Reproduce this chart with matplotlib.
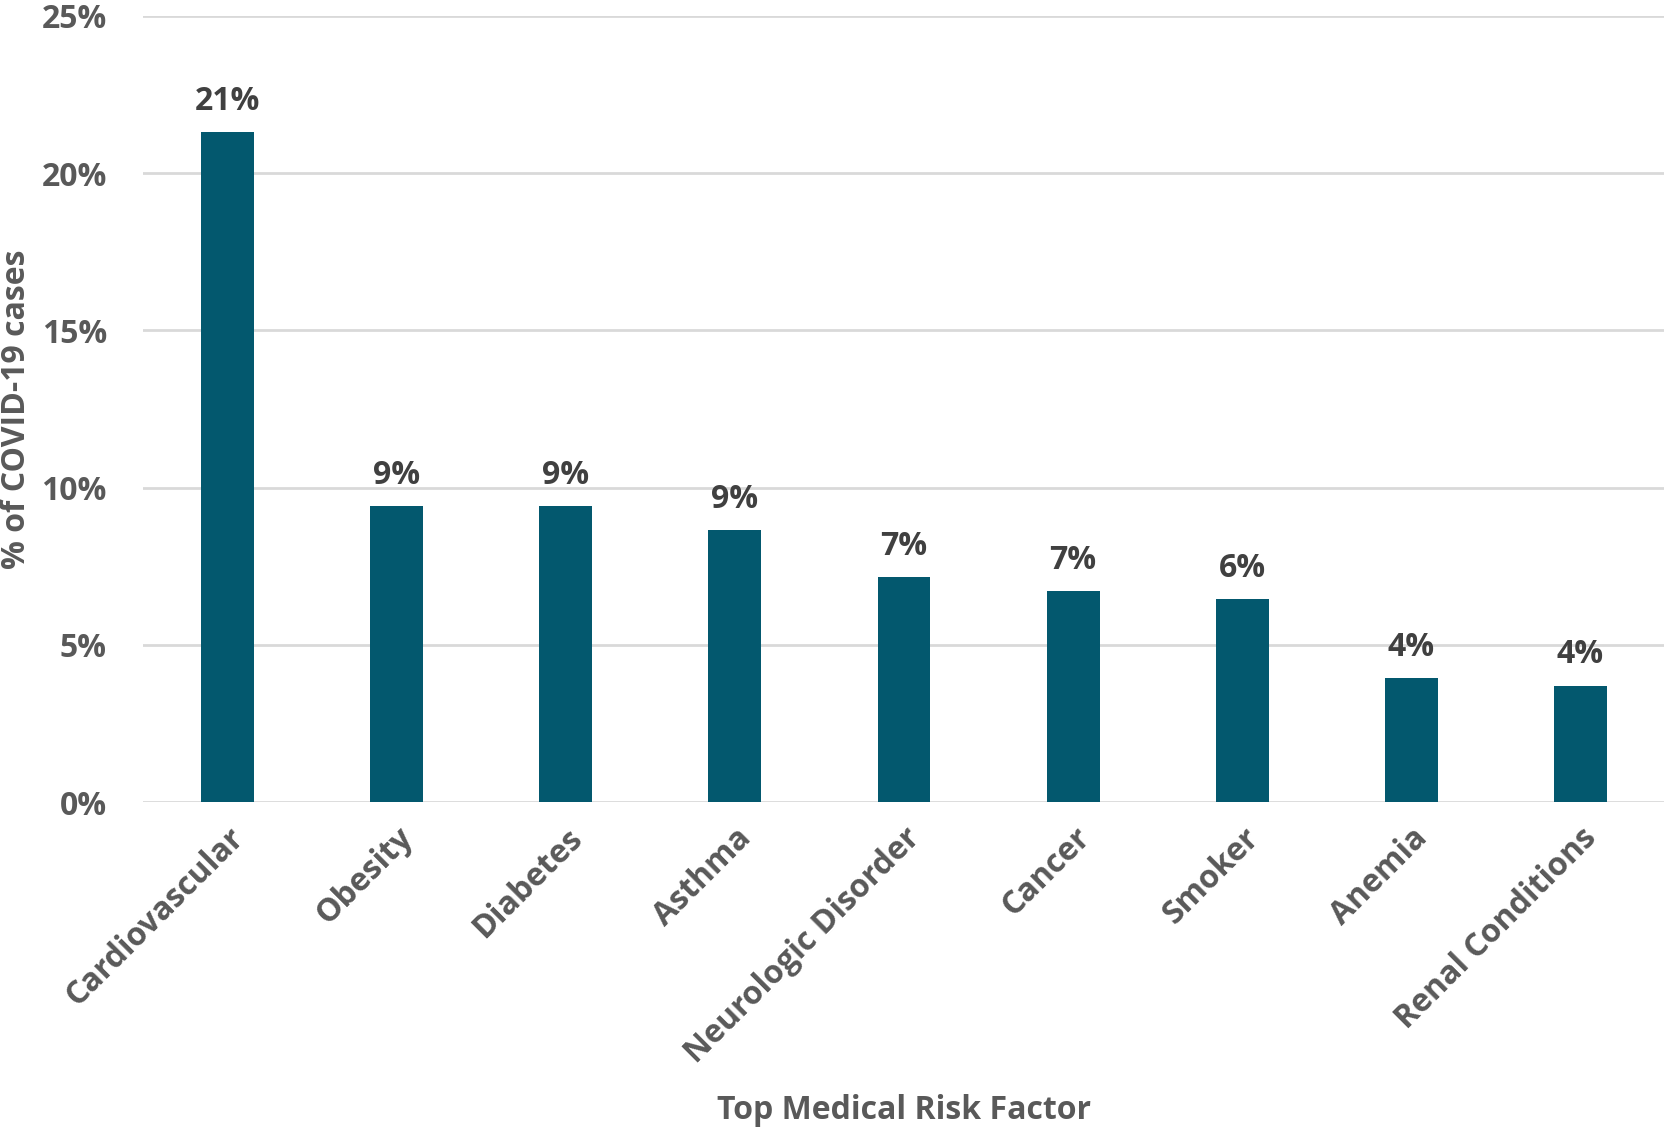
import matplotlib.pyplot as plt
from matplotlib.ticker import FuncFormatter

plt.rcParams['font.family'] = ['Open Sans', 'DejaVu Sans']

# data
categories = ['Cardiovascular', 'Obesity', 'Diabetes', 'Asthma', 'Neurologic Disorder',
              'Cancer', 'Smoker', 'Anemia', 'Renal Conditions']
values = [21.3, 9.4, 9.4, 8.65, 7.15, 6.7, 6.45, 3.95, 3.7]

bar_color = '#03586E'
tick_color = '#595959'
label_color = '#404040'
fs = 23

fig = plt.figure(figsize=(16.65, 11.28), dpi=100)
ax = fig.add_axes([0.0859, 0.289, 0.9141, 0.697])

x = range(len(categories))
bars = ax.bar(x, values, width=0.313, color=bar_color, zorder=3)

# value labels on top of each bar
for b, v in zip(bars, values):
    ax.text(b.get_x() + b.get_width() / 2, v + 0.45, f'{round(v):.0f}%',
            ha='center', va='bottom', fontsize=fs, fontweight='bold', color=label_color)

ax.set_xlim(-0.5, len(categories) - 0.5)
ax.set_ylim(0, 25)
ax.set_yticks([0, 5, 10, 15, 20, 25])
ax.yaxis.set_major_formatter(FuncFormatter(lambda v, p: f'{v:.0f}%'))
ax.grid(axis='y', color='#D9D9D9', linewidth=2, zorder=0)
ax.set_axisbelow(True)

for s in ax.spines.values():
    s.set_visible(False)

ax.tick_params(axis='y', length=0, pad=26, labelsize=fs, labelcolor=tick_color)
ax.tick_params(axis='x', length=0, pad=14, labelsize=fs, labelcolor=tick_color)
for lbl in ax.get_yticklabels():
    lbl.set_fontweight('bold')

ax.set_xticks(list(x))
ax.set_xticklabels(categories, rotation=45, ha='right', rotation_mode='anchor',
                   fontweight='bold')

ax.set_ylabel('% of COVID-19 cases', fontsize=fs, fontweight='bold', color=tick_color)
ax.yaxis.set_label_coords(-0.072, 0.5)
ax.set_xlabel('Top Medical Risk Factor', fontsize=fs, fontweight='bold', color=tick_color)
ax.xaxis.set_label_coords(0.5, -0.372)

fig.savefig('out.png', dpi=100)
